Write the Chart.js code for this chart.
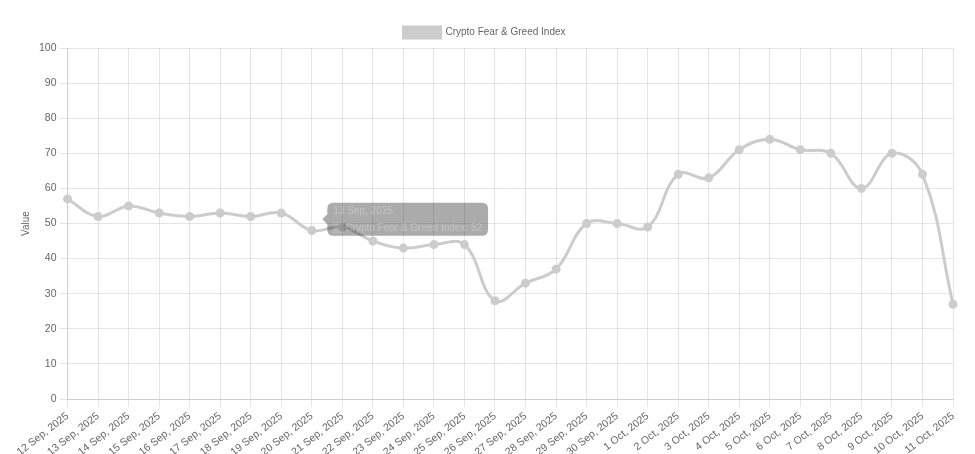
<!DOCTYPE html>
<html>
<head>
<meta charset="utf-8">
<script src="https://cdn.jsdelivr.net/npm/chart.js@4/dist/chart.umd.min.js"></script>
<style>
  html, body { margin: 0; padding: 0; background: #fff; }
  #wrap { width: 975px; height: 454px; position: relative; }
</style>
</head>
<body>
<div id="wrap"><canvas id="c"></canvas></div>
<script>
const categories = ["12 Sep, 2025","13 Sep, 2025","14 Sep, 2025","15 Sep, 2025","16 Sep, 2025","17 Sep, 2025","18 Sep, 2025","19 Sep, 2025","20 Sep, 2025","21 Sep, 2025","22 Sep, 2025","23 Sep, 2025","24 Sep, 2025","25 Sep, 2025","26 Sep, 2025","27 Sep, 2025","28 Sep, 2025","29 Sep, 2025","30 Sep, 2025","1 Oct, 2025","2 Oct, 2025","3 Oct, 2025","4 Oct, 2025","5 Oct, 2025","6 Oct, 2025","7 Oct, 2025","8 Oct, 2025","9 Oct, 2025","10 Oct, 2025","11 Oct, 2025"];
const fearGreedValues = [57,52,55,53,52,53,52,53,48,49,45,43,44,44,28,33,37,50,50,49,64,63,71,74,71,70,60,70,64,27];
const seriesName = "Crypto Fear & Greed Index";
const axisTitle = "Value";

const FONT = 'Liberation Sans, Arial, sans-serif';

Chart.Tooltip.positioners.frozen = function () {
  const ca = this.chart.chartArea;
  return { x: ca.left + (ca.right - ca.left) * 0.2855, y: ca.top + (ca.bottom - ca.top) * 0.488 };
};

const chart = new Chart(document.getElementById('c'), {
  type: 'line',
  data: {
    labels: categories,
    datasets: [{
      label: seriesName,
      data: fearGreedValues,
      borderColor: 'rgb(204,204,204)',
      backgroundColor: 'rgb(204,204,204)',
      borderWidth: 3,
      pointRadius: 3,
      pointBackgroundColor: 'rgb(204,204,204)',
      pointBorderColor: 'rgb(204,204,204)',
      tension: 0.4,
      fill: false
    }]
  },
  options: {
    responsive: true,
    maintainAspectRatio: false,
    animation: false,
    layout: { padding: { left: 16, right: 22, top: 17, bottom: 0 } },
    plugins: {
      legend: {
        labels: { color: '#666', boxWidth: 37, boxHeight: 11, font: { family: FONT, size: 10 } }
      },
      tooltip: {
        enabled: true,
        position: 'frozen',
        xAlign: 'left',
        yAlign: 'center',
        padding: { top: 3, bottom: 3, left: 6, right: 6 },
        titleMarginBottom: 7,
        backgroundColor: 'rgba(0,0,0,0.33)',
        titleColor: 'rgba(255,255,255,0.28)',
        bodyColor: 'rgba(255,255,255,0.28)',
        titleFont: { family: FONT, size: 10, weight: 'normal', lineHeight: 1 },
        bodyFont: { family: FONT, size: 10, lineHeight: 1 },
        boxWidth: 10,
        boxHeight: 10,
        multiKeyBackground: 'rgba(0,0,0,0)',
        callbacks: {
          labelColor: () => ({ borderColor: 'rgba(255,255,255,0.15)', backgroundColor: 'rgba(255,255,255,0.15)' })
        }
      }
    },
    scales: {
      x: {
        grid: { color: 'rgba(0,0,0,0.1)' },
        ticks: { color: '#666', maxRotation: 38, minRotation: 38, autoSkip: false, font: { family: FONT, size: 10.5 } },
        afterFit: (scale) => { scale.height = 55; }
      },
      y: {
        min: 0, max: 100,
        ticks: { stepSize: 10, color: '#666', font: { family: FONT, size: 10.5 } },
        grid: { color: 'rgba(0,0,0,0.1)' },
        title: { display: true, text: axisTitle, color: '#666', font: { family: FONT, size: 10 } }
      }
    }
  }
});
chart.tooltip.setActiveElements([{ datasetIndex: 0, index: 1 }], { x: 0, y: 0 });
chart.update();
</script>
</body>
</html>
